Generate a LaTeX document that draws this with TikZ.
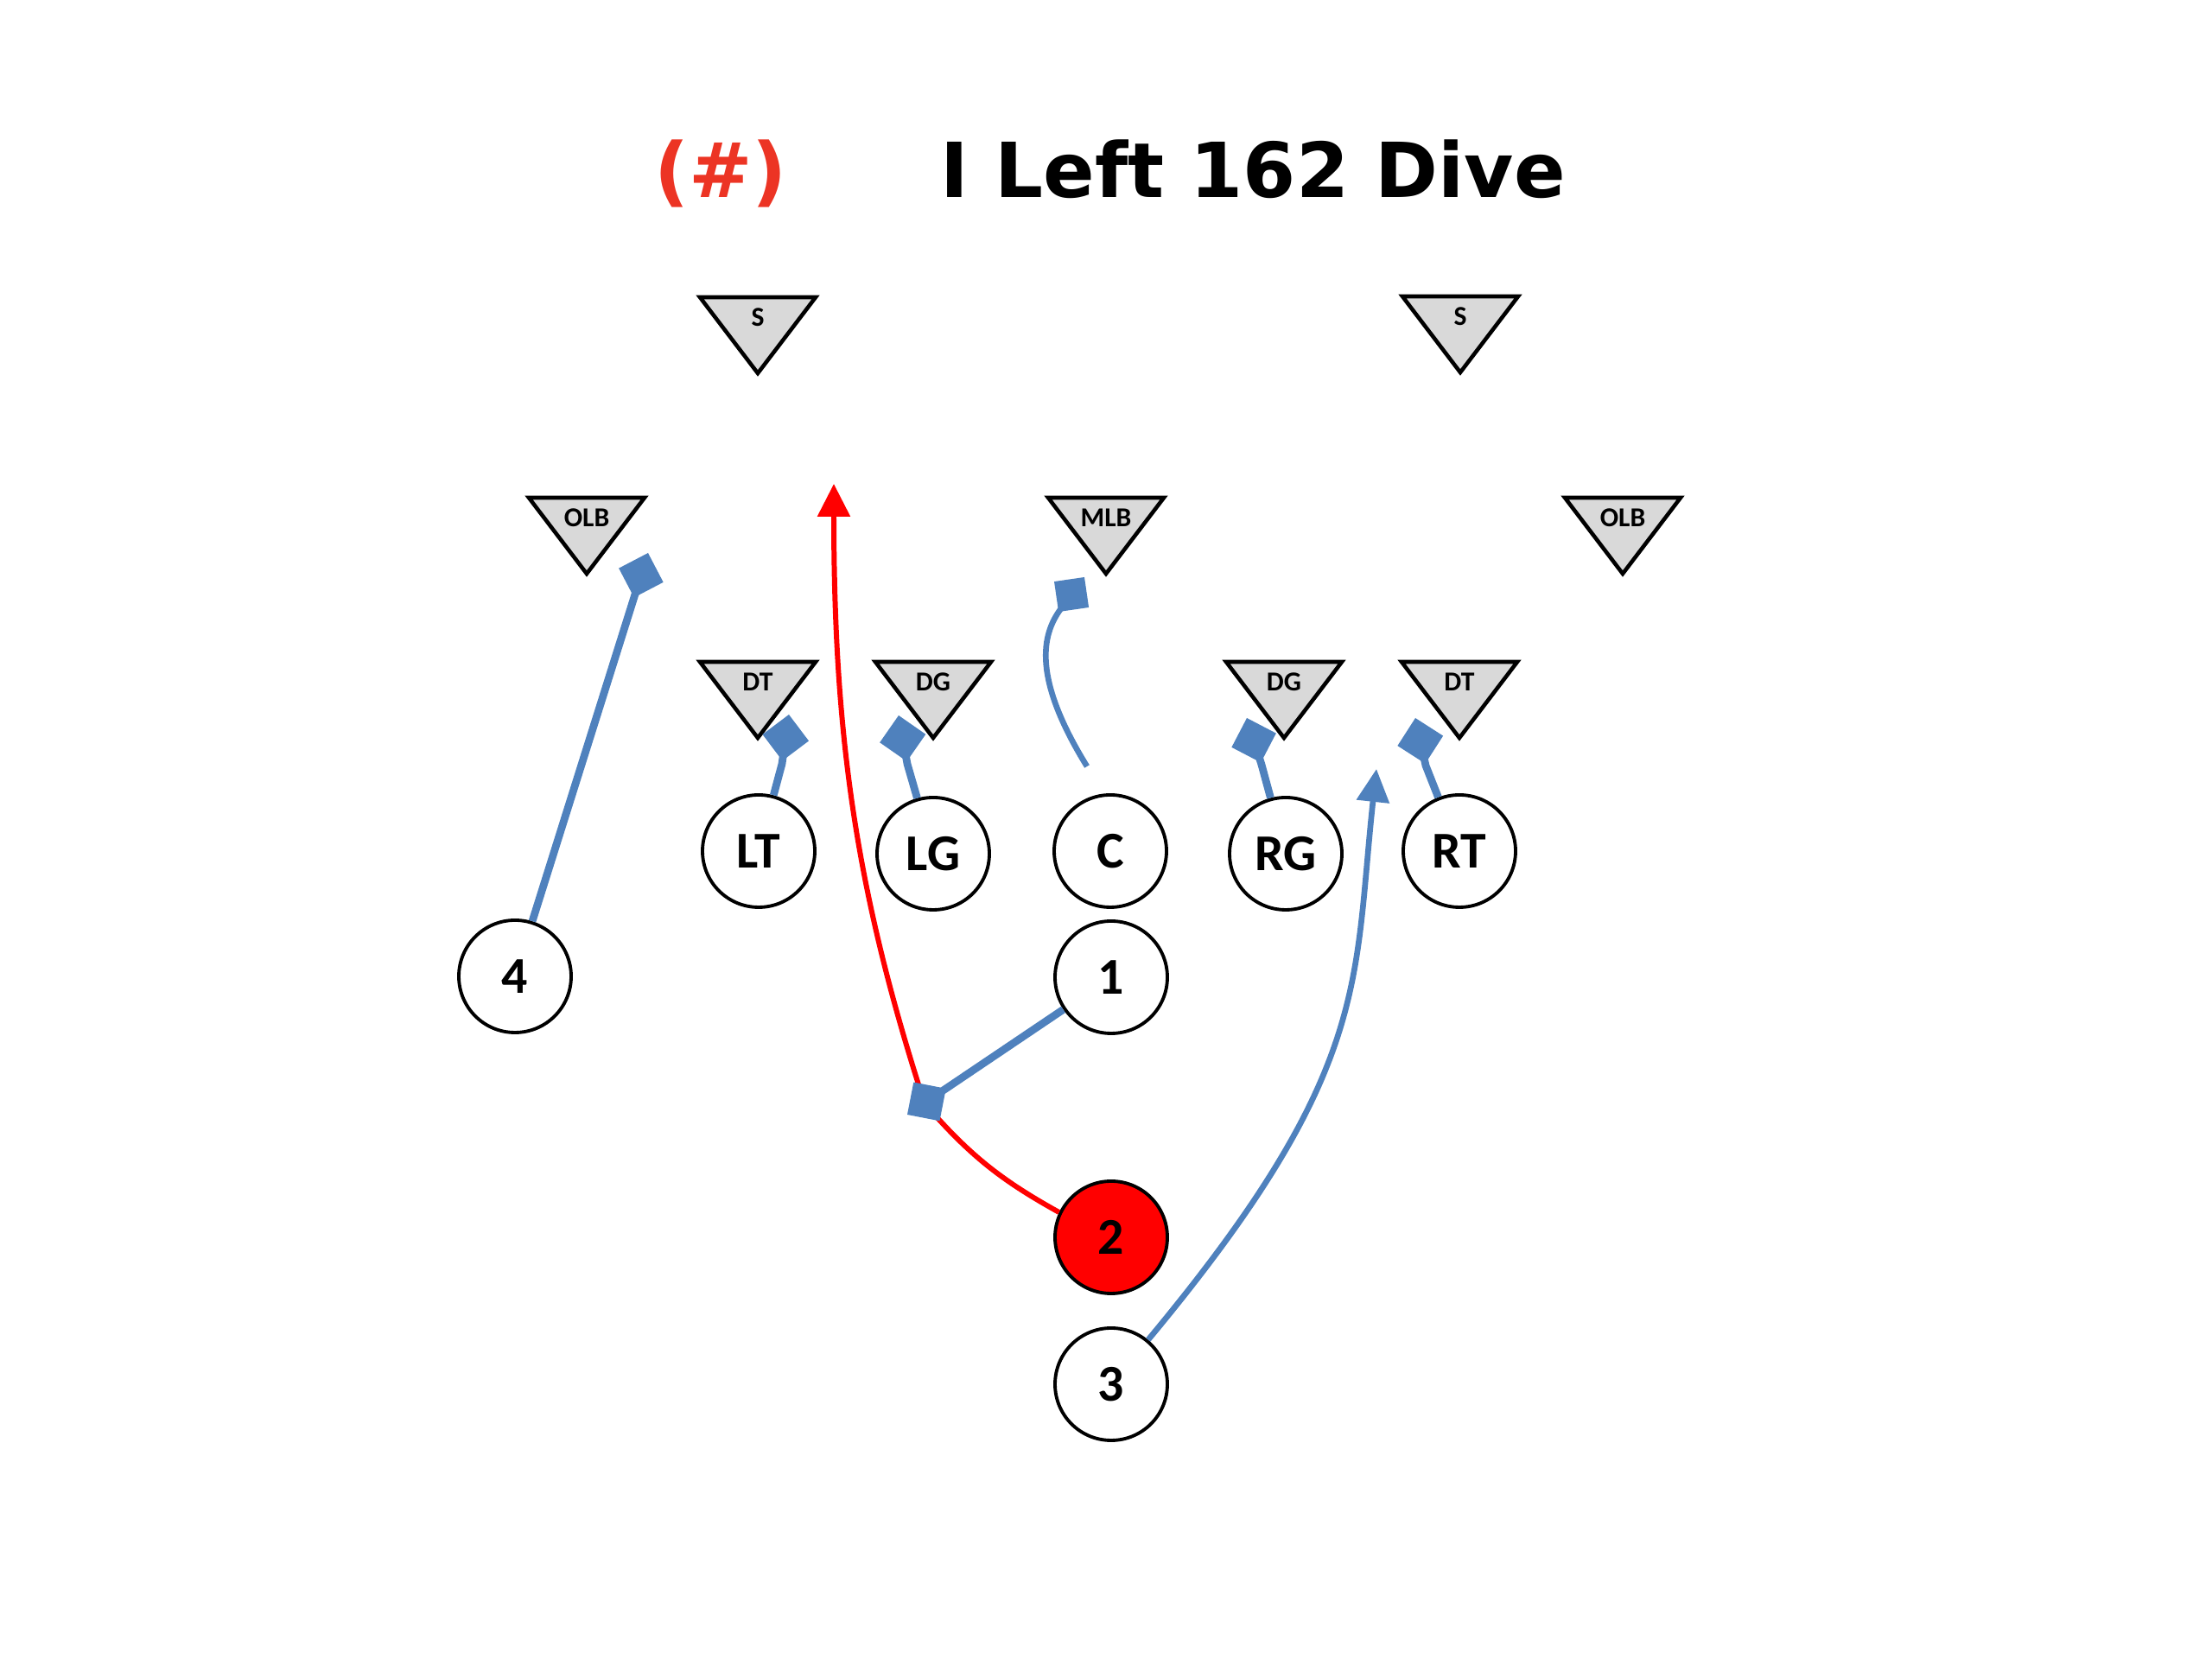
\documentclass[tikz,border=0pt]{standalone}
\usepackage{fontspec}
\setmainfont{Carlito}
\newfontfamily\headfont{DejaVu Sans}
\usepackage{tikz}
\usetikzlibrary{arrows.meta}
\definecolor{figline}{RGB}{0,0,0}
\definecolor{figgray}{RGB}{217,217,217}
\definecolor{figblue}{RGB}{79,129,189}
\definecolor{figred}{RGB}{255,0,0}
\definecolor{fighead}{RGB}{236,52,36}
\tikzset{
  pl/.style   ={circle, draw=figline, line width=1.1pt, fill=white, minimum size=1.30cm, inner sep=0pt, font=\fontsize{17}{17}\selectfont\bfseries},
  dfn/.style  ={draw=figline, fill=figgray, line width=1.3pt, line join=miter},
  dlab/.style ={font=\fontsize{9}{9}\selectfont\bfseries, inner sep=1pt},
  ttl/.style  ={font=\headfont\fontsize{25}{25}\selectfont\bfseries, inner sep=0pt, anchor=base},
  blk/.style  ={draw=figblue, line width=2.5pt, -{Turned Square[length=5.4mm,width=5.4mm]}},
  blkc/.style ={draw=figblue, line width=1.9pt, -{Turned Square[length=5mm,width=5mm]}},
  rte/.style  ={draw=figblue, line width=1.9pt, -{Triangle[length=3.8mm,width=3.7mm]}},
  run/.style  ={draw=figred, line width=1.7pt, -{Triangle[length=3.8mm,width=3.7mm]}},
}
\begin{document}
\begin{tikzpicture}
  \useasboundingbox (0,0) rectangle (25.6,19.2);
  \node[ttl, text=fighead] (num) at (8.34,16.91) {(\#)};
  \node[ttl] (title) at (14.50,16.91) {I Left 162 Dive};

  \draw[dfn] (8.10,15.76) -- (9.44,15.76) -- (8.77,14.88) -- cycle;
  \node[dlab] (S1) at (8.77,15.53) {S};
  \draw[dfn] (16.23,15.77) -- (17.57,15.77) -- (16.90,14.89) -- cycle;
  \node[dlab] (S2) at (16.90,15.54) {S};
  \draw[dfn] (6.12,13.44) -- (7.46,13.44) -- (6.79,12.56) -- cycle;
  \node[dlab] (OLB1) at (6.79,13.21) {OLB};
  \draw[dfn] (12.13,13.44) -- (13.47,13.44) -- (12.80,12.56) -- cycle;
  \node[dlab] (MLB) at (12.80,13.21) {MLB};
  \draw[dfn] (18.11,13.44) -- (19.45,13.44) -- (18.78,12.56) -- cycle;
  \node[dlab] (OLB2) at (18.78,13.21) {OLB};
  \draw[dfn] (8.10,11.54) -- (9.44,11.54) -- (8.77,10.66) -- cycle;
  \node[dlab] (DT1) at (8.77,11.31) {DT};
  \draw[dfn] (10.13,11.54) -- (11.47,11.54) -- (10.80,10.66) -- cycle;
  \node[dlab] (DG1) at (10.80,11.31) {DG};
  \draw[dfn] (14.19,11.54) -- (15.53,11.54) -- (14.86,10.66) -- cycle;
  \node[dlab] (DG2) at (14.86,11.31) {DG};
  \draw[dfn] (16.22,11.54) -- (17.56,11.54) -- (16.89,10.66) -- cycle;
  \node[dlab] (DT2) at (16.89,11.31) {DT};

  \node[pl] (LT) at (8.78,9.35) {LT};
  \node[pl] (LG) at (10.80,9.32) {LG};
  \node[pl] (C) at (12.85,9.35) {C};
  \node[pl] (RG) at (14.88,9.32) {RG};
  \node[pl] (RT) at (16.89,9.35) {RT};
  \node[pl] (P4) at (5.96,7.90) {4};
  \node[pl] (P1) at (12.86,7.89) {1};
  \node[pl, fill=figred] (P2) at (12.86,4.88) {2};
  \node[pl] (P3) at (12.86,3.18) {3};

  \coordinate (kLT) at (9.05,10.36);
  \coordinate (bLT) at (9.13,10.93);
  \coordinate (kLG) at (10.50,10.36);
  \coordinate (bLG) at (10.40,10.92);
  \coordinate (kRG) at (14.60,10.35);
  \coordinate (bRG) at (14.43,10.89);
  \coordinate (kRT) at (16.50,10.34);
  \coordinate (bRT) at (16.38,10.89);
  \coordinate (bOLB) at (7.50,12.80);
  \coordinate (mC) at (12.58,10.33);
  \coordinate (bMLB) at (12.55,12.52);
  \coordinate (hand) at (10.70,6.43);
  \coordinate (bP1) at (10.50,6.30);
  \coordinate (hole) at (9.65,13.60);
  \coordinate (gap) at (15.93,10.30);

  \draw[run] (P2) to[bend left=10] (hand) .. controls (9.93,8.81) and (9.65,10.6) .. (hole);
  \draw[rte] (P3) .. controls (15.88,6.81) and (15.66,7.81) .. (gap);

  \draw[blk] (LT) -- (kLT) -- (bLT);
  \draw[blk] (LG) -- (kLG) -- (bLG);
  \draw[blk] (RG) -- (kRG) -- (bRG);
  \draw[blk] (RT) -- (kRT) -- (bRT);
  \draw[blk] (P4) -- (bOLB);
  \draw[blk] (P1) -- (bP1);
  \draw[blkc] (mC) .. controls (11.95,11.35) and (12.05,11.85) .. (bMLB);
\end{tikzpicture}
\end{document}
